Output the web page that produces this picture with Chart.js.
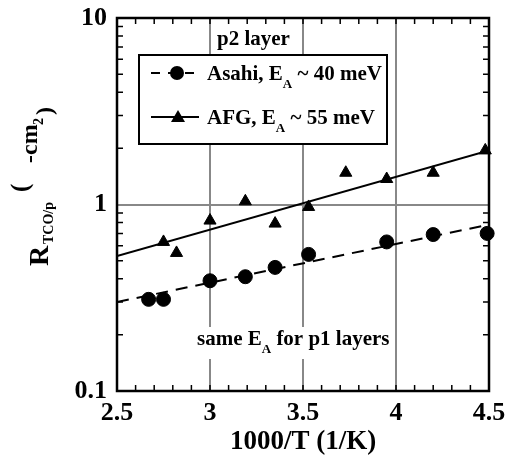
<!DOCTYPE html>
<html>
<head>
<meta charset="utf-8">
<script src="https://cdn.jsdelivr.net/npm/chart.js@4.4.0/dist/chart.umd.min.js"></script>
<style>
  html, body { margin: 0; padding: 0; background: #fff; }
  canvas { display: block; }
</style>
</head>
<body>
<canvas id="chart" width="508" height="459"></canvas>
<script>
// measured points (1000/T, R)
const asahiX = [2.67, 2.75, 3.0, 3.19, 3.35, 3.53, 3.95, 4.2, 4.49];
const asahiY = [0.31, 0.31, 0.39, 0.41, 0.46, 0.54, 0.63, 0.69, 0.70];
const afgX = [2.75, 2.82, 3.0, 3.19, 3.35, 3.53, 3.73, 3.95, 4.2, 4.48];
const afgY = [0.63, 0.55, 0.82, 1.04, 0.79, 0.97, 1.48, 1.37, 1.48, 1.95];

// activation fits
const asahiFitX = [2.5, 4.5];
const asahiFitY = [0.30, 0.78];
const afgFitX = [2.5, 4.5];
const afgFitY = [0.53, 1.95];

const xTicks = [2.5, 3, 3.5, 4, 4.5];
const yTicks = [0.1, 1, 10];
const xGridAt = [3, 3.5, 4];
const yGridAt = [1];

const SERIF = "'Liberation Serif', 'Times New Roman', serif";

function pts(xs, ys) {
  return xs.map((x, i) => ({ x: x, y: ys[i] }));
}

// frame + inward minor ticks
const framePlugin = {
  id: 'frame',
  beforeDatasetsDraw(chart) {
    const { ctx, chartArea: a, scales } = chart;
    ctx.save();
    ctx.strokeStyle = '#000';
    ctx.lineWidth = 1.5;
    ctx.beginPath();
    for (let i = 25; i <= 45; i++) {
      const px = scales.x.getPixelForValue(i / 10);
      ctx.moveTo(px, a.bottom); ctx.lineTo(px, a.bottom - 6);
      ctx.moveTo(px, a.top); ctx.lineTo(px, a.top + 6);
    }
    for (let k = -1; k <= 0; k++) {
      for (let m = 2; m <= 9; m++) {
        const py = scales.y.getPixelForValue(m * Math.pow(10, k));
        ctx.moveTo(a.left, py); ctx.lineTo(a.left + 6, py);
        ctx.moveTo(a.right, py); ctx.lineTo(a.right - 6, py);
      }
    }
    ctx.stroke();
    ctx.lineWidth = 2.5;
    ctx.strokeRect(a.left, a.top, a.right - a.left, a.bottom - a.top);
    ctx.restore();
  }
};

// text with a subscripted "A"
function drawEA(ctx, x, y, before, after, size) {
  ctx.font = 'bold ' + size + 'px ' + SERIF;
  ctx.fillText(before, x, y);
  x += ctx.measureText(before).width;
  ctx.font = 'bold ' + Math.round(size * 0.6) + 'px ' + SERIF;
  ctx.fillText('A', x, y + 8);
  x += ctx.measureText('A').width;
  ctx.font = 'bold ' + size + 'px ' + SERIF;
  ctx.fillText(after, x, y);
}

const notesPlugin = {
  id: 'notes',
  afterDraw(chart) {
    const ctx = chart.ctx;
    ctx.save();
    ctx.fillStyle = '#000';
    ctx.textBaseline = 'alphabetic';
    ctx.textAlign = 'left';

    // p2 layer
    ctx.font = 'bold 21px ' + SERIF;
    ctx.fillText('p2 layer', 217, 45);

    // legend box
    ctx.fillStyle = '#fff';
    ctx.fillRect(139, 55, 248, 89);
    ctx.strokeStyle = '#000';
    ctx.lineWidth = 2;
    ctx.strokeRect(139, 55, 248, 89);

    ctx.fillStyle = '#000';
    ctx.lineWidth = 2;
    ctx.setLineDash([9, 8]);
    ctx.beginPath();
    ctx.moveTo(151, 73); ctx.lineTo(197, 73);
    ctx.stroke();
    ctx.setLineDash([]);
    ctx.beginPath();
    ctx.arc(177, 73, 7, 0, Math.PI * 2);
    ctx.fill();

    ctx.beginPath();
    ctx.moveTo(151, 117); ctx.lineTo(199, 117);
    ctx.stroke();
    ctx.beginPath();
    ctx.moveTo(178, 110); ctx.lineTo(185, 122); ctx.lineTo(171, 122);
    ctx.closePath();
    ctx.fill();

    drawEA(ctx, 207, 80, 'Asahi, E', ' ~ 40 meV', 21);
    drawEA(ctx, 207, 124, 'AFG, E', ' ~ 55 meV', 21);

    // note at the bottom
    ctx.fillStyle = '#fff';
    ctx.fillRect(195, 327, 199, 32);
    ctx.fillStyle = '#000';
    drawEA(ctx, 197, 345, 'same E', ' for p1 layers', 21);

    // y axis title, rotated
    ctx.translate(48, 266);
    ctx.rotate(-Math.PI / 2);
    ctx.font = 'bold 28px ' + SERIF;
    ctx.fillText('R', 0, 0);
    ctx.font = 'bold 14px ' + SERIF;
    ctx.fillText('TCO/p', 22, 5);
    ctx.font = 'bold 25px ' + SERIF;
    ctx.fillText('(', 74, -20);
    ctx.font = 'bold 24px ' + SERIF;
    ctx.fillText('-cm', 103, -11);
    ctx.font = 'bold 14px ' + SERIF;
    ctx.fillText('2', 141, -5);
    ctx.font = 'bold 24px ' + SERIF;
    ctx.fillText(')', 151, 4);
    ctx.restore();
  }
};

const tickFont = { family: SERIF, size: 26, weight: 'bold' };

new Chart(document.getElementById('chart'), {
  type: 'scatter',
  data: {
    datasets: [
      {
        label: 'Asahi fit',
        type: 'line',
        data: pts(asahiFitX, asahiFitY),
        borderColor: '#000',
        borderWidth: 2,
        borderDash: [12, 8],
        pointRadius: 0,
        fill: false
      },
      {
        label: 'AFG fit',
        type: 'line',
        data: pts(afgFitX, afgFitY),
        borderColor: '#000',
        borderWidth: 2,
        pointRadius: 0,
        fill: false
      },
      {
        label: 'Asahi, EA ~ 40 meV',
        data: pts(asahiX, asahiY),
        pointStyle: 'circle',
        pointRadius: 7,
        backgroundColor: '#000',
        borderColor: '#000',
        clip: false
      },
      {
        label: 'AFG, EA ~ 55 meV',
        data: pts(afgX, afgY),
        pointStyle: 'triangle',
        pointRadius: 7,
        backgroundColor: '#000',
        borderColor: '#000',
        clip: false
      }
    ]
  },
  options: {
    responsive: false,
    animation: false,
    devicePixelRatio: 1,
    layout: { padding: { left: 0, right: 19, top: 18, bottom: 0 } },
    plugins: {
      legend: { display: false },
      tooltip: { enabled: false }
    },
    scales: {
      x: {
        type: 'linear',
        min: 2.5,
        max: 4.5,
        afterBuildTicks: s => { s.ticks = xTicks.map(v => ({ value: v })); },
        afterFit: s => { s.height = 68; s.paddingLeft = 0; s.paddingRight = 0; },
        border: { display: false },
        grid: {
          drawTicks: false,
          lineWidth: 2,
          color: c => (c.tick && xGridAt.includes(c.tick.value)) ? '#888' : 'rgba(0,0,0,0)'
        },
        ticks: {
          font: tickFont,
          color: '#000',
          padding: 7,
          maxRotation: 0,
          autoSkip: false,
          callback: v => String(v)
        },
        title: {
          display: true,
          text: '1000/T (1/K)',
          color: '#000',
          font: { family: SERIF, size: 27, weight: 'bold' },
          padding: { top: 0, bottom: 1 }
        }
      },
      y: {
        type: 'logarithmic',
        min: 0.1,
        max: 10,
        afterBuildTicks: s => { s.ticks = yTicks.map(v => ({ value: v })); },
        afterFit: s => { s.width = 117; s.paddingTop = 0; s.paddingBottom = 0; },
        border: { display: false },
        grid: {
          drawTicks: false,
          lineWidth: 2,
          color: c => (c.tick && yGridAt.includes(c.tick.value)) ? '#888' : 'rgba(0,0,0,0)'
        },
        ticks: {
          font: tickFont,
          color: '#000',
          padding: 10,
          autoSkip: false,
          callback: v => String(v)
        }
      }
    }
  },
  plugins: [framePlugin, notesPlugin]
});
</script>
</body>
</html>
